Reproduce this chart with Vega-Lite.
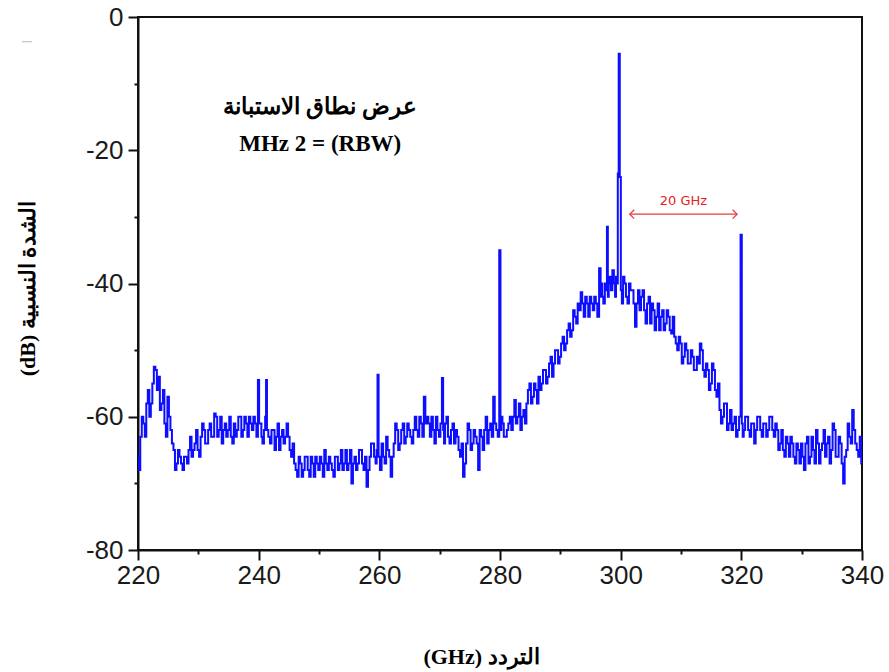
{
  "$schema": "https://vega.github.io/schema/vega-lite/v6.json",
  "width": 724,
  "height": 533,
  "autosize": {"type": "none"},
  "padding": {"left": 138, "top": 17, "right": 27, "bottom": 122},
  "background": "white",
  "config": {
    "view": {"stroke": "#111", "strokeWidth": 2},
    "axis": {
      "domainColor": "#111", "domainWidth": 2, "tickColor": "#111", "tickWidth": 2, "ticks": true,
      "grid": false, "labelFont": "Liberation Sans", "labelFontSize": 26, "labelColor": "#1a1a1a",
      "labelFlush": false, "labelOverlap": false,
      "titleFont": "Liberation Serif", "titleFontWeight": "bold", "titleFontSize": 22, "titleColor": "#000"
    }
  },
  "resolve": {"axis": {"x": "independent", "y": "independent"}},
  "datasets": {
    "spec": [
      {"f":220.0,"d":-66},{"f":220.5,"d":-63},{"f":221.0,"d":-61},{"f":221.5,"d":-58},{"f":222.0,"d":-60},{"f":222.5,"d":-55},{"f":223.0,"d":-53},{"f":223.5,"d":-54},{"f":224.0,"d":-58},{"f":224.5,"d":-61},{"f":225.0,"d":-57},{"f":225.5,"d":-62},{"f":226.0,"d":-65},{"f":226.5,"d":-67},{"f":227.0,"d":-66},{"f":227.5,"d":-68},{"f":228.0,"d":-66},{"f":228.5,"d":-65},{"f":229.0,"d":-66},{"f":229.5,"d":-64},
      {"f":230.0,"d":-65},{"f":230.5,"d":-63},{"f":231.0,"d":-62},{"f":231.5,"d":-64},{"f":232.0,"d":-61},{"f":232.5,"d":-63},{"f":233.0,"d":-60},{"f":233.5,"d":-62},{"f":234.0,"d":-64},{"f":234.5,"d":-61},{"f":235.0,"d":-62},{"f":235.5,"d":-63},{"f":236.0,"d":-61},{"f":236.5,"d":-62},{"f":237.0,"d":-60},{"f":237.5,"d":-62},{"f":238.0,"d":-61},{"f":238.5,"d":-60},{"f":239.0,"d":-62},{"f":239.5,"d":-61},
      {"f":240.0,"d":-54.5},{"f":240.15,"d":-61},{"f":240.5,"d":-63},{"f":241.0,"d":-62},{"f":241.3,"d":-54.5},{"f":241.45,"d":-62},{"f":242.0,"d":-64},{"f":242.5,"d":-62},{"f":243.0,"d":-63},{"f":243.5,"d":-65},{"f":244.0,"d":-62},{"f":244.5,"d":-63},{"f":245.0,"d":-63},{"f":245.5,"d":-66},{"f":246.0,"d":-67},{"f":246.5,"d":-69},{"f":247.0,"d":-67},{"f":247.5,"d":-68},{"f":248.0,"d":-66},{"f":248.5,"d":-69},{"f":249.0,"d":-67},{"f":249.5,"d":-66},
      {"f":250.0,"d":-68},{"f":250.5,"d":-67},{"f":251.0,"d":-65},{"f":251.5,"d":-68},{"f":252.0,"d":-67},{"f":252.5,"d":-69},{"f":253.0,"d":-66},{"f":253.5,"d":-67},{"f":254.0,"d":-68},{"f":254.5,"d":-65},{"f":255.0,"d":-67},{"f":255.5,"d":-70},{"f":256.0,"d":-66},{"f":256.5,"d":-67},{"f":257.0,"d":-65},{"f":257.5,"d":-68},{"f":258.0,"d":-70.5},{"f":258.5,"d":-66},{"f":259.0,"d":-64},{"f":259.5,"d":-67},{"f":259.8,"d":-53.7},{"f":259.95,"d":-66},
      {"f":260.5,"d":-64},{"f":261.0,"d":-67},{"f":261.5,"d":-65},{"f":262.0,"d":-69},{"f":262.5,"d":-64},{"f":263.0,"d":-62},{"f":263.5,"d":-64},{"f":264.0,"d":-61},{"f":264.5,"d":-63},{"f":265.0,"d":-62},{"f":265.5,"d":-64},{"f":266.0,"d":-60},{"f":266.5,"d":-63},{"f":267.0,"d":-61},{"f":267.5,"d":-57},{"f":268.0,"d":-60},{"f":268.5,"d":-63},{"f":269.0,"d":-62},{"f":269.5,"d":-60},
      {"f":270.0,"d":-63},{"f":270.5,"d":-54.2},{"f":270.65,"d":-62},{"f":271.0,"d":-61},{"f":271.5,"d":-63},{"f":272.0,"d":-62},{"f":272.5,"d":-64},{"f":273.0,"d":-63},{"f":273.5,"d":-66},{"f":274.0,"d":-69},{"f":274.5,"d":-64},{"f":275.0,"d":-62},{"f":275.5,"d":-64},{"f":276.0,"d":-63},{"f":276.5,"d":-68},{"f":277.0,"d":-63},{"f":277.5,"d":-62},{"f":278.0,"d":-64},{"f":278.5,"d":-61},{"f":279.0,"d":-57},{"f":279.5,"d":-62},
      {"f":280.0,"d":-35},{"f":280.15,"d":-62},{"f":280.5,"d":-61},{"f":281.0,"d":-63},{"f":281.5,"d":-61},{"f":282.0,"d":-62},{"f":282.5,"d":-57.5},{"f":283.0,"d":-60},{"f":283.5,"d":-62},{"f":284.0,"d":-59},{"f":284.5,"d":-58},{"f":285.0,"d":-55},{"f":285.5,"d":-57},{"f":286.0,"d":-56},{"f":286.5,"d":-54},{"f":287.0,"d":-55},{"f":287.5,"d":-53},{"f":288.0,"d":-54},{"f":288.5,"d":-51},{"f":289.0,"d":-52},{"f":289.5,"d":-50},
      {"f":290.0,"d":-51},{"f":290.5,"d":-48},{"f":291.0,"d":-49},{"f":291.5,"d":-46},{"f":292.0,"d":-47},{"f":292.5,"d":-45},{"f":293.0,"d":-43},{"f":293.5,"d":-41.3},{"f":294.0,"d":-45},{"f":294.5,"d":-43},{"f":295.0,"d":-42},{"f":295.5,"d":-44},{"f":296.0,"d":-43},{"f":296.6,"d":-37.7},{"f":296.75,"d":-42},{"f":297.0,"d":-42},{"f":297.5,"d":-40},{"f":297.8,"d":-31.5},{"f":297.95,"d":-42},{"f":298.3,"d":-39},{"f":298.5,"d":-41},{"f":299.0,"d":-40},{"f":299.3,"d":-39},{"f":299.6,"d":-23.5},{"f":299.75,"d":-5.5},{"f":299.95,"d":-24},
      {"f":300.1,"d":-41},{"f":300.5,"d":-39},{"f":301.0,"d":-42},{"f":301.5,"d":-40},{"f":302.0,"d":-41},{"f":302.5,"d":-46.5},{"f":303.0,"d":-41},{"f":303.5,"d":-42},{"f":304.0,"d":-44},{"f":304.5,"d":-43},{"f":305.0,"d":-46},{"f":305.5,"d":-44},{"f":306.0,"d":-45},{"f":306.5,"d":-47},{"f":307.0,"d":-44},{"f":307.5,"d":-46},{"f":308.0,"d":-45},{"f":308.5,"d":-47.5},{"f":309.0,"d":-48},{"f":309.5,"d":-50},
      {"f":310.0,"d":-49},{"f":310.5,"d":-51},{"f":311.0,"d":-50},{"f":311.5,"d":-52},{"f":312.0,"d":-51},{"f":312.5,"d":-53},{"f":313.0,"d":-52},{"f":313.5,"d":-50},{"f":314.0,"d":-54},{"f":314.5,"d":-53},{"f":315.0,"d":-55},{"f":315.5,"d":-53},{"f":316.0,"d":-57},{"f":316.5,"d":-59},{"f":317.0,"d":-60},{"f":317.5,"d":-58},{"f":318.0,"d":-61},{"f":318.5,"d":-62},{"f":319.0,"d":-60},{"f":319.5,"d":-62},
      {"f":320.0,"d":-32.7},{"f":320.15,"d":-61},{"f":320.5,"d":-62},{"f":321.0,"d":-60},{"f":321.5,"d":-63},{"f":322.0,"d":-61},{"f":322.5,"d":-62},{"f":323.0,"d":-60},{"f":323.5,"d":-63},{"f":324.0,"d":-61},{"f":324.5,"d":-62},{"f":325.0,"d":-60},{"f":325.5,"d":-63},{"f":326.0,"d":-62},{"f":326.5,"d":-64},{"f":327.0,"d":-65},{"f":327.5,"d":-63},{"f":328.0,"d":-66},{"f":328.5,"d":-64},{"f":329.0,"d":-67},{"f":329.5,"d":-65},
      {"f":330.0,"d":-64},{"f":330.5,"d":-68},{"f":331.0,"d":-63},{"f":331.5,"d":-66},{"f":332.0,"d":-65},{"f":332.5,"d":-62},{"f":333.0,"d":-67},{"f":333.5,"d":-64},{"f":334.0,"d":-66},{"f":334.5,"d":-63},{"f":335.0,"d":-65},{"f":335.5,"d":-62},{"f":336.0,"d":-66},{"f":336.5,"d":-64},{"f":337.0,"d":-70},{"f":337.5,"d":-65},{"f":338.0,"d":-63},{"f":338.5,"d":-59},{"f":339.0,"d":-64},{"f":339.5,"d":-66},{"f":340.0,"d":-67},
      {"f":220.25,"d":-68},{"f":220.75,"d":-60},{"f":221.25,"d":-63},{"f":221.75,"d":-56},{"f":222.25,"d":-58},{"f":222.75,"d":-52.5},{"f":223.25,"d":-56},{"f":223.75,"d":-59},{"f":224.25,"d":-56},{"f":224.75,"d":-63},{"f":225.25,"d":-60},{"f":225.75,"d":-64},{"f":226.25,"d":-68},{"f":226.75,"d":-65},{"f":227.25,"d":-67},{"f":227.75,"d":-66},{"f":228.25,"d":-67},{"f":228.75,"d":-63},{"f":229.25,"d":-65},{"f":229.75,"d":-62},
      {"f":230.25,"d":-66},{"f":230.75,"d":-61},{"f":231.25,"d":-64},{"f":231.75,"d":-62},{"f":232.25,"d":-63},{"f":232.75,"d":-59.5},{"f":233.25,"d":-63},{"f":233.75,"d":-60},{"f":234.25,"d":-62},{"f":234.75,"d":-63},{"f":235.25,"d":-60},{"f":235.75,"d":-64},{"f":236.25,"d":-63},{"f":236.75,"d":-60},{"f":237.25,"d":-63},{"f":237.75,"d":-60},{"f":238.25,"d":-63},{"f":238.75,"d":-61},{"f":239.25,"d":-60},{"f":239.75,"d":-63},
      {"f":240.4,"d":-61},{"f":240.75,"d":-64},{"f":241.15,"d":-60},{"f":241.75,"d":-63},{"f":242.25,"d":-62},{"f":242.75,"d":-65},{"f":243.25,"d":-61},{"f":243.75,"d":-63},{"f":244.25,"d":-64},{"f":244.75,"d":-61},{"f":245.25,"d":-65},{"f":245.75,"d":-64},{"f":246.25,"d":-68},{"f":246.75,"d":-66},{"f":247.25,"d":-69},{"f":247.75,"d":-66},{"f":248.25,"d":-68},{"f":248.75,"d":-66},{"f":249.25,"d":-69},{"f":249.75,"d":-67},
      {"f":250.25,"d":-66},{"f":250.75,"d":-69},{"f":251.25,"d":-67},{"f":251.75,"d":-66},{"f":252.25,"d":-68},{"f":252.75,"d":-66},{"f":253.25,"d":-68},{"f":253.75,"d":-65},{"f":254.25,"d":-67},{"f":254.75,"d":-68},{"f":255.25,"d":-65},{"f":255.75,"d":-67},{"f":256.25,"d":-68},{"f":256.75,"d":-65},{"f":257.25,"d":-67},{"f":257.75,"d":-66},{"f":258.25,"d":-68},{"f":258.75,"d":-64},{"f":259.25,"d":-66},{"f":259.6,"d":-65},
      {"f":260.25,"d":-68},{"f":260.75,"d":-66},{"f":261.25,"d":-63},{"f":261.75,"d":-66},{"f":262.25,"d":-66},{"f":262.75,"d":-61},{"f":263.25,"d":-65},{"f":263.75,"d":-62},{"f":264.25,"d":-64},{"f":264.75,"d":-61},{"f":265.25,"d":-63},{"f":265.75,"d":-62},{"f":266.25,"d":-62},{"f":266.75,"d":-60},{"f":267.25,"d":-63},{"f":267.75,"d":-61},{"f":268.25,"d":-61},{"f":268.75,"d":-60},{"f":269.25,"d":-64},{"f":269.75,"d":-62},
      {"f":270.25,"d":-61},{"f":270.8,"d":-64},{"f":271.25,"d":-60},{"f":271.75,"d":-64},{"f":272.25,"d":-61},{"f":272.75,"d":-62},{"f":273.25,"d":-65},{"f":273.75,"d":-64},{"f":274.25,"d":-67},{"f":274.75,"d":-61},{"f":275.25,"d":-65},{"f":275.75,"d":-62},{"f":276.25,"d":-64},{"f":276.75,"d":-62},{"f":277.25,"d":-65},{"f":277.75,"d":-60},{"f":278.25,"d":-62},{"f":278.75,"d":-63},{"f":279.25,"d":-61},{"f":279.75,"d":-63},
      {"f":280.3,"d":-60},{"f":280.75,"d":-63},{"f":281.25,"d":-62},{"f":281.75,"d":-60},{"f":282.25,"d":-60},{"f":282.75,"d":-61},{"f":283.25,"d":-58},{"f":283.75,"d":-60},{"f":284.25,"d":-61},{"f":284.75,"d":-56},{"f":285.25,"d":-58},{"f":285.75,"d":-55},{"f":286.25,"d":-58},{"f":286.75,"d":-56},{"f":287.25,"d":-53},{"f":287.75,"d":-55},{"f":288.25,"d":-52},{"f":288.75,"d":-54},{"f":289.25,"d":-50},{"f":289.75,"d":-52},
      {"f":290.25,"d":-49},{"f":290.75,"d":-50},{"f":291.25,"d":-47},{"f":291.75,"d":-48},{"f":292.25,"d":-44},{"f":292.75,"d":-46},{"f":293.25,"d":-44},{"f":293.75,"d":-43},{"f":294.25,"d":-42},{"f":294.75,"d":-45},{"f":295.25,"d":-43},{"f":295.75,"d":-42},{"f":296.25,"d":-45},{"f":296.9,"d":-40},{"f":297.25,"d":-43},{"f":297.65,"d":-41},{"f":298.1,"d":-40},{"f":298.75,"d":-38},{"f":299.15,"d":-42},{"f":299.45,"d":-40},
      {"f":300.3,"d":-43},{"f":300.75,"d":-40},{"f":301.25,"d":-43},{"f":301.75,"d":-41},{"f":302.25,"d":-43},{"f":302.75,"d":-43},{"f":303.25,"d":-44},{"f":303.75,"d":-41},{"f":304.25,"d":-46},{"f":304.75,"d":-42},{"f":305.25,"d":-43},{"f":305.75,"d":-47},{"f":306.25,"d":-43},{"f":306.75,"d":-45},{"f":307.25,"d":-47},{"f":307.75,"d":-44},{"f":308.25,"d":-47},{"f":308.75,"d":-45},{"f":309.25,"d":-49},{"f":309.75,"d":-48},
      {"f":310.25,"d":-52},{"f":310.75,"d":-49},{"f":311.25,"d":-52},{"f":311.75,"d":-50},{"f":312.25,"d":-53},{"f":312.75,"d":-51},{"f":313.25,"d":-49},{"f":313.75,"d":-53},{"f":314.25,"d":-52},{"f":314.75,"d":-56},{"f":315.25,"d":-52},{"f":315.75,"d":-56},{"f":316.25,"d":-55},{"f":316.75,"d":-61},{"f":317.25,"d":-58},{"f":317.75,"d":-62},{"f":318.25,"d":-59},{"f":318.75,"d":-61},{"f":319.25,"d":-63},{"f":319.75,"d":-60},
      {"f":320.3,"d":-63},{"f":320.75,"d":-60},{"f":321.25,"d":-62},{"f":321.75,"d":-61},{"f":322.25,"d":-64},{"f":322.75,"d":-60},{"f":323.25,"d":-62},{"f":323.75,"d":-61},{"f":324.25,"d":-63},{"f":324.75,"d":-60},{"f":325.25,"d":-62},{"f":325.75,"d":-61},{"f":326.25,"d":-65},{"f":326.75,"d":-62},{"f":327.25,"d":-66},{"f":327.75,"d":-64},{"f":328.25,"d":-63},{"f":328.75,"d":-66},{"f":329.25,"d":-64},{"f":329.75,"d":-67},
      {"f":330.25,"d":-66},{"f":330.75,"d":-64},{"f":331.25,"d":-67},{"f":331.75,"d":-63},{"f":332.25,"d":-67},{"f":332.75,"d":-64},{"f":333.25,"d":-65},{"f":333.75,"d":-62},{"f":334.25,"d":-64},{"f":334.75,"d":-67},{"f":335.25,"d":-61},{"f":335.75,"d":-66},{"f":336.25,"d":-63},{"f":336.75,"d":-67},{"f":337.25,"d":-66},{"f":337.75,"d":-61},{"f":338.25,"d":-64},{"f":338.75,"d":-62},{"f":339.25,"d":-65},{"f":339.75,"d":-63}
    ],
    "arrow": [{"f1": 301.5, "f2": 319.3, "d": -29.6}],
    "heads": [{"f": 301.5, "d": -29.6, "side": "L"}, {"f": 319.3, "d": -29.6, "side": "R"}],
    "labels": [
      {"f": 250.2, "d": -13.5, "t": "عرض نطاق الاستبانة"},
      {"f": 250.2, "d": -19.0, "t": "MHz 2 = (RBW)"}
    ],
    "gap": [{"f": 310.4, "d": -27.6, "t": "20 GHz"}],
    "speck": [{"f": 201.6, "d": -3.6, "t": "–"}]
  },
  "layer": [
    {
      "data": {"name": "spec"},
      "mark": {"type": "line", "interpolate": "step", "color": "#0d0dff", "strokeWidth": 2, "clip": true},
      "encoding": {
        "x": {
          "field": "f", "type": "quantitative",
          "scale": {"domain": [220, 340], "nice": false, "zero": false},
          "axis": {
            "orient": "bottom",
            "values": [220,240,260,280,300,320,340],
            "tickSize": 10, "tickColor": "#111", "tickWidth": 2,
            "labelPadding": 2,
            "title": "(GHz) التردد",
            "titleX": 343, "titleY": 113, "titleBaseline": "alphabetic"
          }
        },
        "y": {
          "field": "d", "type": "quantitative",
          "scale": {"domain": [-80, 0], "nice": false, "zero": false},
          "axis": {
            "orient": "left",
            "values": [-80,-60,-40,-20,0],
            "labelExpr": "replace(datum.label, '−', '-')",
            "tickSize": 10, "tickColor": "#111", "tickWidth": 2,
            "labelPadding": 5,
            "title": "(dB) الشدة النسبية",
            "titleX": -104, "titleY": 271, "titleBaseline": "alphabetic", "titleAngle": -90, "titleAlign": "center"
          }
        }
      }
    },
    {
      "data": {"name": "spec"},
      "mark": {"type": "point", "opacity": 0, "size": 1},
      "encoding": {
        "x": {
          "field": "f", "type": "quantitative",
          "axis": {"orient": "bottom", "values": [230,250,270,290,310,330], "labels": false, "domain": false, "tickSize": 4, "tickColor": "#111", "tickWidth": 2, "title": null}
        },
        "y": {
          "field": "d", "type": "quantitative",
          "axis": {"orient": "left", "values": [-70,-50,-30,-10], "labels": false, "domain": false, "tickSize": 4, "tickColor": "#111", "tickWidth": 2, "title": null}
        }
      }
    },
    {
      "data": {"name": "arrow"},
      "mark": {"type": "rule", "color": "#e83a3a", "strokeWidth": 1.2},
      "encoding": {
        "x": {"field": "f1", "type": "quantitative", "axis": null},
        "x2": {"field": "f2"},
        "y": {"field": "d", "type": "quantitative", "axis": null}
      }
    },
    {
      "data": {"name": "heads"},
      "transform": [{"filter": "datum.side === 'L'"}],
      "mark": {"type": "point", "shape": "M1,-1L0,0L1,1", "filled": false, "stroke": "#e83a3a", "strokeWidth": 1.2, "size": 80, "opacity": 1},
      "encoding": {
        "x": {"field": "f", "type": "quantitative", "axis": null},
        "y": {"field": "d", "type": "quantitative", "axis": null}
      }
    },
    {
      "data": {"name": "heads"},
      "transform": [{"filter": "datum.side === 'R'"}],
      "mark": {"type": "point", "shape": "M-1,-1L0,0L-1,1", "filled": false, "stroke": "#e83a3a", "strokeWidth": 1.2, "size": 80, "opacity": 1},
      "encoding": {
        "x": {"field": "f", "type": "quantitative", "axis": null},
        "y": {"field": "d", "type": "quantitative", "axis": null}
      }
    },
    {
      "data": {"name": "gap"},
      "mark": {"type": "text", "color": "#e82020", "font": "DejaVu Sans", "fontSize": 13, "baseline": "middle", "align": "center"},
      "encoding": {
        "x": {"field": "f", "type": "quantitative", "axis": null},
        "y": {"field": "d", "type": "quantitative", "axis": null},
        "text": {"field": "t"}
      }
    },
    {
      "data": {"name": "speck"},
      "mark": {"type": "text", "color": "#c8c8c8", "font": "Liberation Sans", "fontSize": 18, "baseline": "middle", "align": "center"},
      "encoding": {
        "x": {"field": "f", "type": "quantitative", "axis": null},
        "y": {"field": "d", "type": "quantitative", "axis": null},
        "text": {"field": "t"}
      }
    },
    {
      "data": {"name": "labels"},
      "mark": {"type": "text", "color": "#000", "font": "Liberation Serif", "fontWeight": "bold", "fontSize": 23, "baseline": "middle", "align": "center"},
      "encoding": {
        "x": {"field": "f", "type": "quantitative", "axis": null},
        "y": {"field": "d", "type": "quantitative", "axis": null},
        "text": {"field": "t"}
      }
    }
  ]
}
